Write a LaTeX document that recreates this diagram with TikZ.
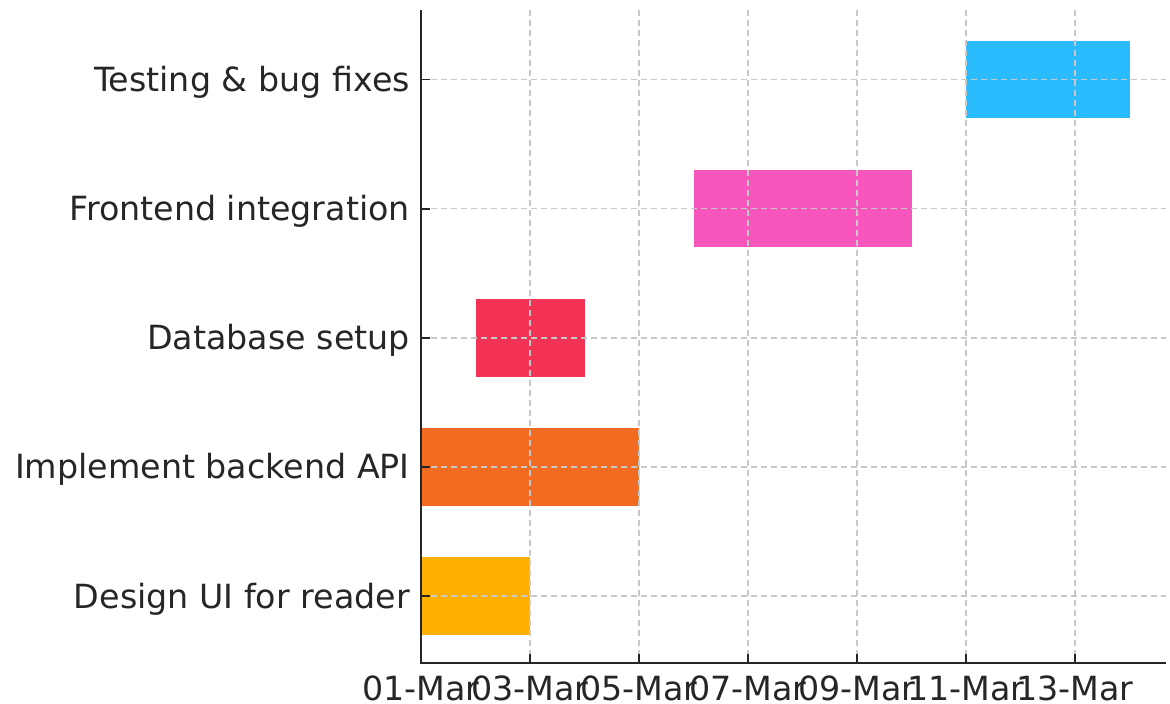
\documentclass[tikz,border=0pt]{standalone}
\usepackage{fontspec}
\setmainfont{DejaVu Sans}
\definecolor{inkc}{HTML}{262626}
\definecolor{gridc}{HTML}{C8C8C8}
\definecolor{designc}{HTML}{FFB000}
\definecolor{backendc}{HTML}{F26B21}
\definecolor{dbc}{HTML}{F43256}
\definecolor{frontc}{HTML}{F757BD}
\definecolor{testc}{HTML}{2ABCFE}
\begin{document}
\begin{tikzpicture}[x=1pt,y=-1pt,
  bar/.style={fill=#1, draw=none},
  gridline/.style={draw=gridc, line width=1.4pt, dash pattern=on 6pt off 4pt},
  spine/.style={draw=inkc, line width=2.6pt},
  tickmark/.style={draw=inkc, line width=1.6pt},
  ticklabel/.style={text=inkc, inner sep=0pt, font=\fontsize{33.3}{33.3}\selectfont},
]
% canvas: 1170 x 704 px, y grows downward
\useasboundingbox (0,0) rectangle (1170,704);
% x: 01-Mar at 421, 54.5 px per day; rows 129.1 px apart, bars 0.6 of that
\def\xo{421}\def\dx{54.5}
\def\yo{596}\def\dy{129.1}\def\bh{38.75}

% task bars: start day / end day / row / colour
\foreach \s/\e/\r/\c in {0/2/0/designc, 0/4/1/backendc, 1/3/2/dbc, 5/9/3/frontc, 10/13/4/testc}{
  \fill[bar=\c] ({\xo+\s*\dx},{\yo-\r*\dy-\bh}) rectangle ({\xo+\e*\dx},{\yo-\r*\dy+\bh});
}

% dashed grid, drawn over the bars
\foreach \r in {0,...,4}{
  \draw[gridline] (\xo,{\yo-\r*\dy}) -- (1166,{\yo-\r*\dy});
}
\foreach \d in {2,4,...,12}{
  \draw[gridline] ({\xo+\d*\dx},10) -- ({\xo+\d*\dx},663);
}

% axes
\coordinate (top) at (\xo,10);
\coordinate (origin) at (\xo,663);
\coordinate (right) at (1166,663);
\draw[spine] (top) -- (origin) -- (right);

% y ticks and task names
\foreach \r/\t in {0/Design UI for reader, 1/Implement backend API, 2/Database setup, 3/Frontend integration, 4/Testing \& bug fixes}{
  \draw[tickmark] (\xo,{\yo-\r*\dy}) -- ({\xo+9},{\yo-\r*\dy});
  \node[ticklabel, anchor=base east] (row\r) at (410,{\yo-\r*\dy+12}) {\t};
}

% x ticks and dates
\foreach \d/\t in {0/01-Mar, 2/03-Mar, 4/05-Mar, 6/07-Mar, 8/09-Mar, 10/11-Mar, 12/13-Mar}{
  \draw[tickmark] ({\xo+\d*\dx},663) -- ({\xo+\d*\dx},654);
  \node[ticklabel, anchor=base] (day\d) at ({\xo+\d*\dx},700) {\t};
}
\end{tikzpicture}
\end{document}
